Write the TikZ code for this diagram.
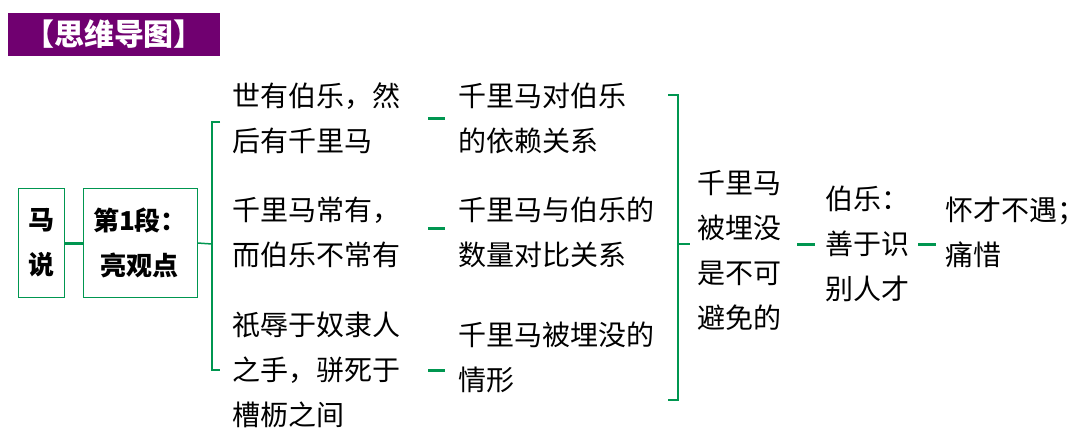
\documentclass[tikz,border=0pt]{standalone}
\usepackage{fontspec}
\newfontfamily\cjk{Noto Sans CJK SC}
\definecolor{gr}{RGB}{0,150,80}
\definecolor{pu}{RGB}{112,0,112}
\begin{document}
\begin{tikzpicture}[x=1pt,y=-1pt,
 txt/.style={anchor=west,inner sep=0pt,align=left,font=\cjk\fontsize{28}{45}\selectfont},
 bx/.style={draw=gr,line width=1pt,inner sep=4pt,align=center,font=\cjk\bfseries\fontsize{26}{45}\selectfont},
 ln/.style={draw=gr,line width=1.5pt},
 dsh/.style={draw=gr,line width=3pt}]
\useasboundingbox (0,0) rectangle (1080,442);
\node[fill=pu,text=white,font=\cjk\bfseries\fontsize{30}{30}\selectfont,minimum width=212,minimum height=43,inner sep=0] (t) at (114,34) {【思维导图】};
\node[bx,minimum width=46,minimum height=109] (m) at (41,243) {马\\说};
\node[bx,minimum width=114,minimum height=109] (p) at (140,243) {第1段：\\亮观点};
\node[txt] (a) at (232,118) {世有伯乐，然\\后有千里马};
\node[txt] (b) at (232,232) {千里马常有，\\而伯乐不常有};
\node[txt] (c) at (232,370) {祇辱于奴隶人\\之手，骈死于\\槽枥之间};
\node[txt] (d) at (458,118) {千里马对伯乐\\的依赖关系};
\node[txt] (e) at (458,232) {千里马与伯乐的\\数量对比关系};
\node[txt] (f) at (458,357) {千里马被埋没的\\情形};
\node[txt] (g) at (697,250) {千里马\\被埋没\\是不可\\避免的};
\node[txt] (h) at (825,244) {伯乐：\\善于识\\别人才};
\node[txt] (i) at (945,232) {怀才不遇；\\痛惜};
\coordinate (lb) at (212,244);
\coordinate (rb) at (678,244);
\draw[dsh] (m.east) -- (p.west);
\draw[ln] (p.east) -- (lb);
\draw[ln] (220,122) -- (212,122) -- (212,370) -- (220,370);
\draw[ln] (668,95) -- (678,95) -- (678,400) -- (668,400);
\draw[ln] (rb) -- (690,244);
\draw[dsh] (428,118) -- (445,118);
\draw[dsh] (428,228) -- (445,228);
\draw[dsh] (428,370) -- (445,370);
\draw[dsh] (797,244) -- (815,244);
\draw[dsh] (918,244) -- (936,244);
\end{tikzpicture}
\end{document}
